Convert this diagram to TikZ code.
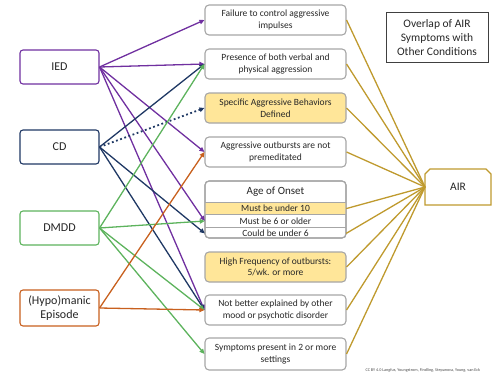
\documentclass[tikz,border=0pt]{standalone}
\usepackage{fontspec}
\setmainfont{Carlito}
\usetikzlibrary{arrows.meta,positioning}
\definecolor{iedcol}{HTML}{7030A0}
\definecolor{cdcol}{HTML}{1F3864}
\definecolor{dmddcol}{HTML}{5DB35D}
\definecolor{maniacol}{HTML}{C8601E}
\definecolor{aircol}{HTML}{BF9A2E}
\definecolor{boxgray}{HTML}{A6A6A6}
\definecolor{hilite}{HTML}{FFE699}
\definecolor{inktext}{HTML}{262626}
\tikzset{
  cond/.style={rectangle, rounded corners=3pt, draw=#1, line width=1.1pt,
    fill=white, minimum width=79pt, minimum height=34pt, align=center,
    font=\fontsize{12}{14.5}\selectfont, text=inktext},
  sympbox/.style={rectangle, rounded corners=4pt, draw=boxgray, line width=1.1pt,
    fill=white, minimum width=141pt, minimum height=30pt, inner sep=1pt,
    align=center, font=\fontsize{9.5}{11.5}\selectfont, text=inktext},
  agerow/.style={rectangle, minimum width=141pt, minimum height=12pt,
    inner sep=0pt, font=\fontsize{9.5}{11}\selectfont, text=inktext},
  link/.style={line width=1.3pt, #1, -{Triangle[length=5pt,width=4.5pt]}},
  feed/.style={line width=1.3pt, aircol}
}

\begin{document}
\begin{tikzpicture}[x=1pt, y=-1pt]

\useasboundingbox (0,0) rectangle (500,375);

%--- Conditions (left column) ---

\node[cond=iedcol]   (ied)   at (59.5,67)  {IED};
\node[cond=cdcol]    (cd)    at (59.5,147) {CD};
\node[cond=dmddcol]  (dmdd)  at (59.5,228) {DMDD};
\node[cond=maniacol, minimum height=36pt] (mania) at (59.5,308) {(Hypo)manic\\Episode};

%--- Symptoms (middle column) ---

\node[sympbox]              (fail) at (275.5,20)  {Failure to control aggressive\\impulses};
\node[sympbox]              (pres) at (275.5,64)  {Presence of both verbal and\\physical aggression};
\node[sympbox, fill=hilite] (spec) at (275.5,108) {Specific Aggressive Behaviors\\Defined};
\node[sympbox]              (prem) at (275.5,152) {Aggressive outbursts are not\\premeditated};
\node[sympbox, minimum height=57pt, outer sep=0pt] (age) at (275.5,209.5) {};
\node[sympbox, fill=hilite] (freq) at (275.5,267) {High Frequency of outbursts:\\5/wk. or more};
\node[sympbox]              (notb) at (275.5,310) {Not better explained by other\\mood or psychotic disorder};
\node[sympbox, minimum height=32pt] (sett) at (275.5,354) {Symptoms present in 2 or more\\settings};

% Age of onset rows
\node[agerow, anchor=north, minimum height=21pt, font=\fontsize{11}{13}\selectfont]
  (ageT) at (age.north) {Age of Onset};
\node[agerow, fill=hilite, below=0pt of ageT] (ageA) {Must be under 10};
\node[agerow, below=0pt of ageA]              (ageB) {Must be 6 or older};
\node[agerow, below=0pt of ageB]              (ageC) {Could be under 6};
\foreach \r in {ageA, ageB, ageC} {
  \draw[boxgray, line width=0.9pt] (\r.north west) -- (\r.north east);
}
\draw[boxgray, line width=1.1pt, rounded corners=4pt] (age.north west) rectangle (age.south east);

%--- AIR and title ---

% AIR box: top corners snipped, outline drawn by hand
\node[rectangle, minimum width=66pt, minimum height=36pt, outer sep=0pt,
  font=\fontsize{11.5}{13}\selectfont, text=inktext] (air) at (458,187) {AIR};
\draw[aircol, line width=1.2pt, line join=miter]
  (air.south west) -- ++(0,-31) -- ++(5,-5) -- ++(56,0) -- ++(5,5)
  -- (air.south east) -- cycle;

\node[draw=black!75, line width=0.8pt, align=center, minimum width=102pt, minimum height=50pt,
  font=\fontsize{11.5}{14}\selectfont, text=inktext] (title) at (437,37.5)
  {Overlap of AIR\\Symptoms with\\Other Conditions};

\node[font=\fontsize{4.2}{5}\selectfont, text=black!70, anchor=west] (credit) at (362,370)
  {CC BY 4.0 Langfus, Youngstrom, Findling, Stepanova, Young, van Eck};

%--- Connectors ---

% 1. IED
\foreach \t in {fail, pres, prem, ageB, notb} {
  \draw[link=iedcol] (ied.east) -- (\t.west);
}

% 2. CD
\draw[link=cdcol] (cd.east) -- (pres.west);
\draw[link=cdcol, line width=1.8pt, dash pattern=on 1.8pt off 2.6pt] (cd.east) -- (spec.west);
\draw[link=cdcol] (cd.east) -- (ageC.west);
\draw[link=cdcol] (cd.east) -- (notb.west);

% 3. DMDD
\foreach \t in {pres, ageB, notb, sett} {
  \draw[link=dmddcol] (dmdd.east) -- (\t.west);
}

% 4. (Hypo)manic episode
\draw[link=maniacol] (mania.east) -- (prem.west);
\draw[link=maniacol] (mania.east) -- (notb.west);

% 5. Symptoms into AIR
\foreach \s in {fail, pres, spec, prem, ageA, ageC, freq, notb, sett} {
  \draw[feed] (\s.east) -- (air.west);
}

\end{tikzpicture}
\end{document}
